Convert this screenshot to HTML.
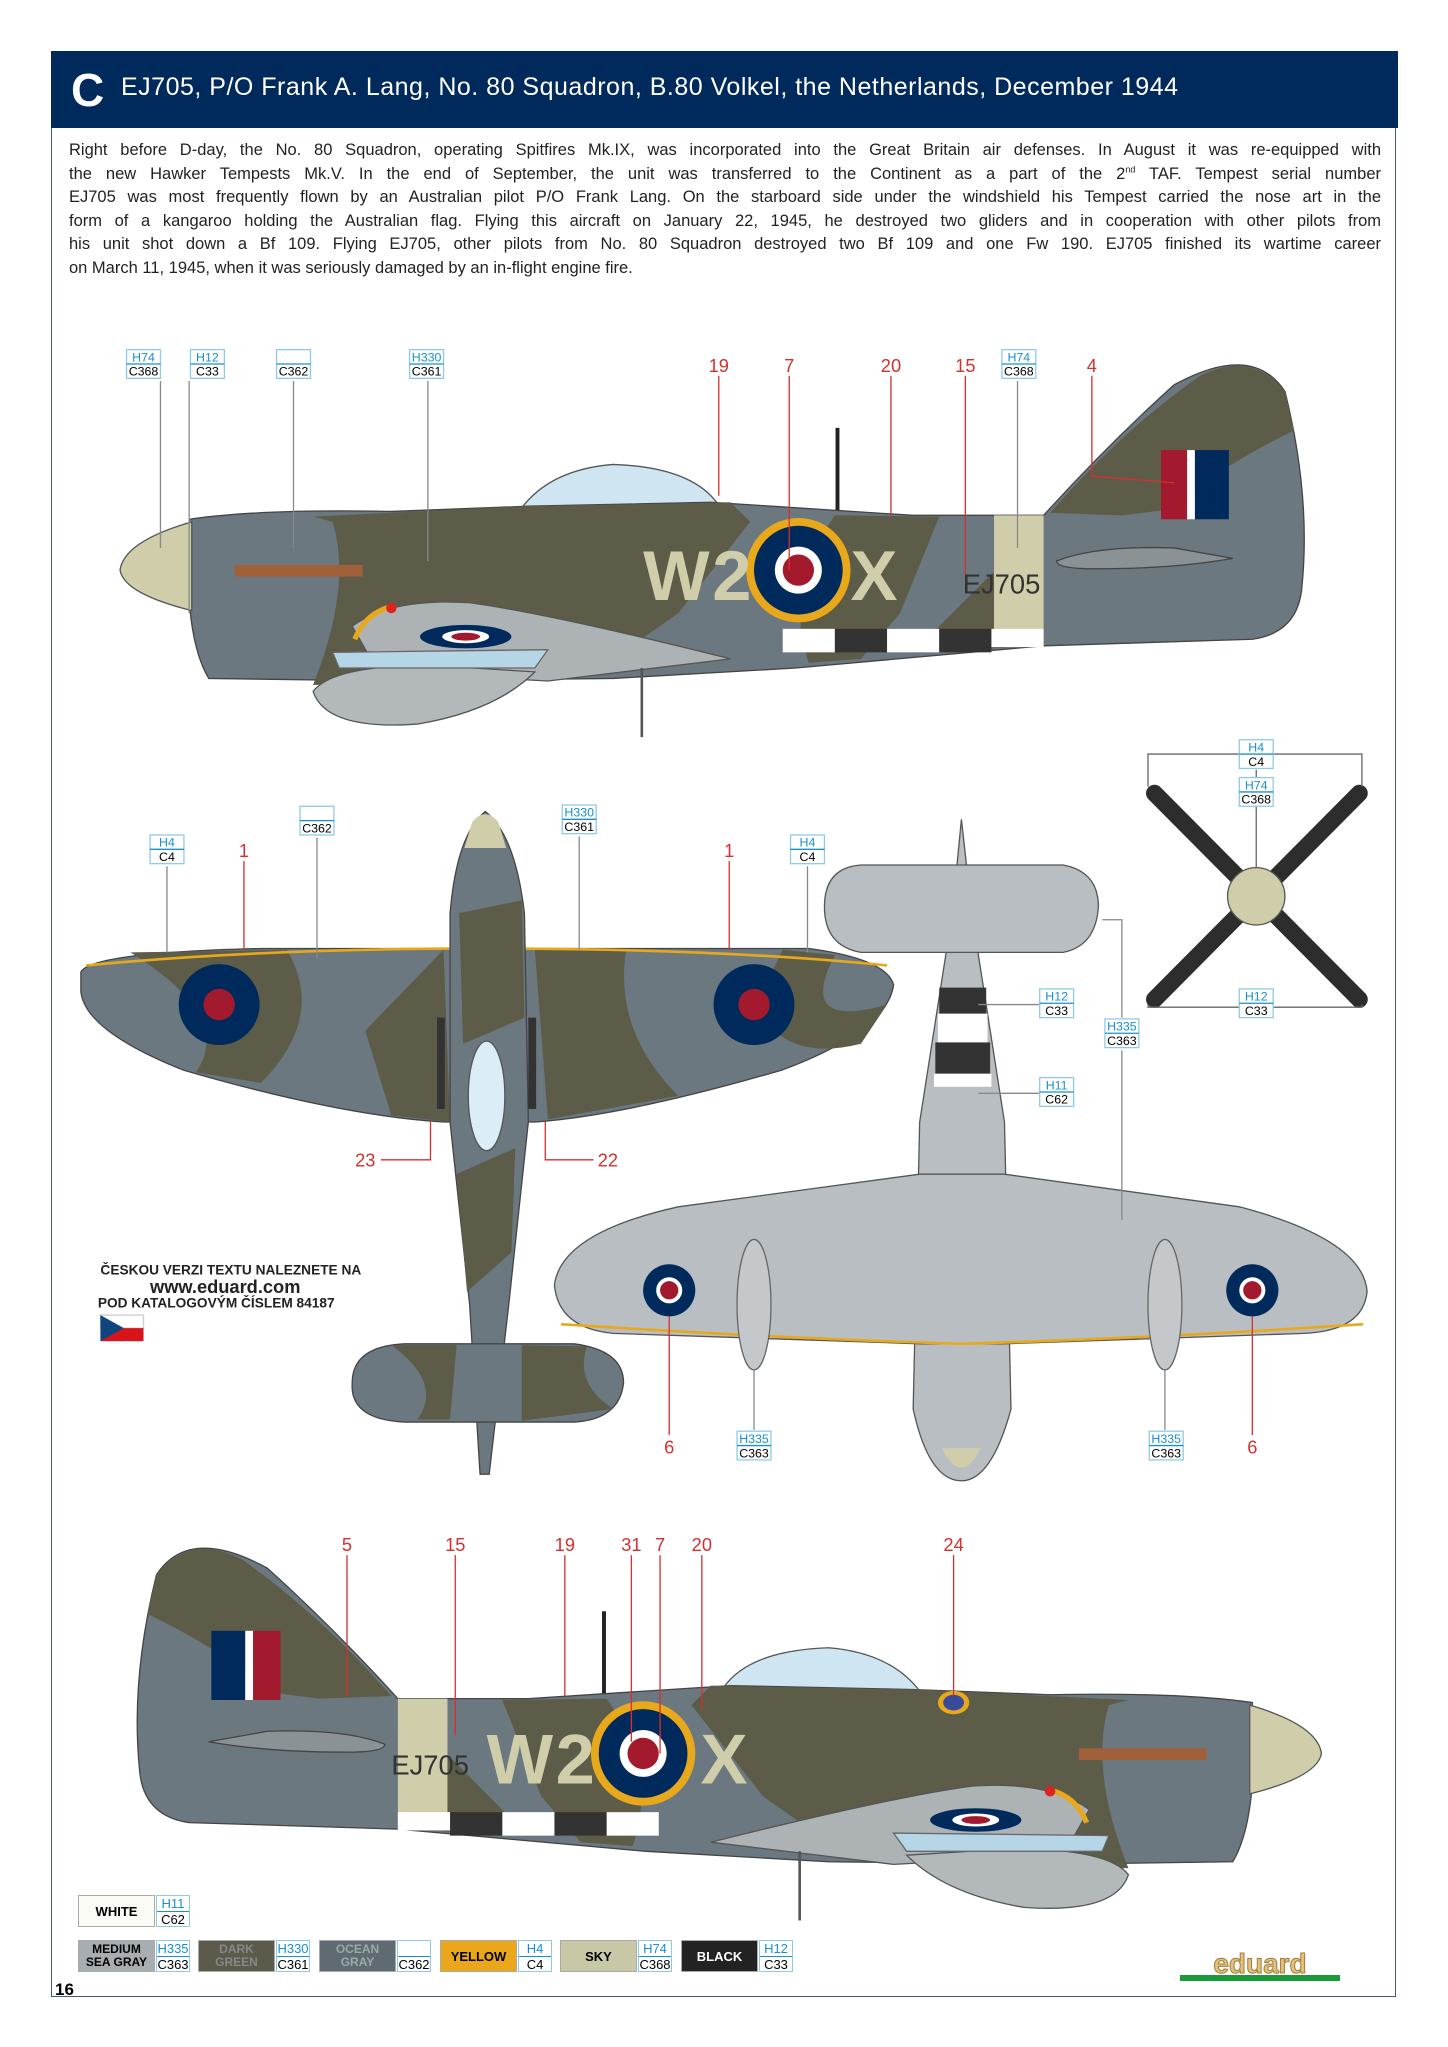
<!DOCTYPE html>
<html><head><meta charset="utf-8"><style>
body{margin:0;background:#fff;}
#pg{position:relative;width:1448px;height:2047px;overflow:hidden;font-family:"Liberation Sans",sans-serif;}
#frame{position:absolute;left:51px;top:51px;width:1345px;height:1946px;border:1.5px solid #3c5a85;box-sizing:border-box;}
#hdr{position:absolute;left:51px;top:51px;width:1347px;height:77px;background:#002a5c;color:#fff;}
#hdr .c{position:absolute;left:20px;top:12px;font-size:46px;font-weight:bold;}
#hdr .t{position:absolute;left:70px;top:22px;font-size:25px;letter-spacing:0.5px;}
#txt{position:absolute;left:69px;top:139px;width:1312px;font-size:16.5px;line-height:23.5px;color:#222;}
#txt div{text-align:justify;text-align-last:justify;white-space:nowrap;}
#txt div.l{text-align-last:left;}
svg{position:absolute;left:0;top:0;}
.lg{position:absolute;height:32px;font-weight:bold;font-size:13px;}
.lg .n{position:absolute;left:0;top:0;width:77px;height:32px;display:flex;align-items:center;justify-content:center;text-align:center;line-height:13px;border:1px solid #aaa;box-sizing:border-box;}
.lg .k{position:absolute;left:78px;top:0;width:34px;height:32px;border:1px solid #8fcbe8;box-sizing:border-box;font-weight:normal;font-size:13px;line-height:15px;text-align:center;}
.lg .k b{display:block;color:#1a8fd0;border-bottom:1px solid #1a8fd0;font-weight:normal;}
</style></head><body><div id="pg">
<div id="frame"></div>
<div id="hdr"><span class="c">C</span><span class="t">EJ705, P/O Frank A. Lang, No. 80 Squadron, B.80 Volkel, the Netherlands, December 1944</span></div>
<div id="txt">
<div>Right before D-day, the No. 80 Squadron, operating Spitfires Mk.IX, was incorporated into the Great Britain air defenses. In August it was re-equipped with</div>
<div>the new Hawker Tempests Mk.V. In the end of September, the unit was transferred to the Continent as a part of the 2<sup style="font-size:9px;line-height:0">nd</sup> TAF. Tempest serial number</div>
<div>EJ705 was most frequently flown by an Australian pilot P/O Frank Lang. On the starboard side under the windshield his Tempest carried the nose art in the</div>
<div>form of a kangaroo holding the Australian flag. Flying this aircraft on January 22, 1945, he destroyed two gliders and in cooperation with other pilots from</div>
<div>his unit shot down a Bf 109. Flying EJ705, other pilots from No. 80 Squadron destroyed two Bf 109 and one Fw 190. EJ705 finished its wartime career</div>
<div class="l">on March 11, 1945, when it was seriously damaged by an in-flight engine fire.</div>
</div>

<svg width="1448" height="2047" viewBox="0 0 1110 1569" preserveAspectRatio="none" font-family="Liberation Sans, sans-serif">
<defs>
<g id="side">
 <line x1="642" y1="328" x2="642" y2="392" stroke="#222" stroke-width="3"/>
 <path d="M398,392 Q420,360 470,356 Q530,358 550,386 Z" fill="#cfe6f2" stroke="#555"/>
 <path d="M145,398 Q200,390 300,392 L405,388 L545,385 L700,395 L800,395 Q850,340 900,295 Q960,262 985,300 Q1005,380 998,450 Q995,485 960,490 L800,495 L610,512 L470,520 L300,522 L160,520 Q148,500 145,460 Z" fill="#6b7880" stroke="#444" stroke-width="1"/>
 <path d="M240,396 L400,388 L560,385 L575,400 L520,470 L470,505 L420,520 L240,525 Q270,450 255,400 Z" fill="#5c5c48"/>
 <path d="M640,395 L720,396 L690,470 L660,505 L620,508 Q600,450 640,395 Z" fill="#5c5c48"/>
 <path d="M805,393 Q860,330 920,288 Q960,268 985,300 L992,330 Q930,360 900,390 L860,395 Z" fill="#5c5c48"/>
 <path d="M700,500 L760,440 L800,420 L800,495 Z" fill="#5c5c48"/>
 <rect x="762" y="395" width="38" height="100" fill="#cfcdaa"/>
 <path d="M147,400 Q95,415 92,437 Q95,455 147,468 Z" fill="#cfcdaa" stroke="#555"/>
 <path d="M810,430 Q840,418 900,420 L945,428 Q900,436 840,436 Q810,436 810,430 Z" fill="#8a9296" stroke="#444"/>
 <rect x="180" y="433" width="98" height="9" fill="#a0613a"/>
 <path d="M270,480 Q300,458 360,462 Q420,470 560,505 L420,522 L290,515 Z" fill="#adb2b5" stroke="#555"/>
 <path d="M240,530 Q255,510 330,510 L410,515 Q380,545 320,555 Q250,560 240,530 Z" fill="#b3b8bb" stroke="#555"/>
 <path d="M255,500 L420,498 L410,512 L260,512 Z" fill="#b6d6e8" stroke="#666"/>
 <ellipse cx="357" cy="488" rx="35" ry="9" fill="#002a5c"/><ellipse cx="357" cy="488" rx="18" ry="5" fill="#fff"/><ellipse cx="357" cy="488" rx="11" ry="3" fill="#a31a2e"/>
 <path d="M272,490 Q280,470 300,465" stroke="#e8a81c" stroke-width="4" fill="none"/>
 <circle cx="300" cy="466" r="4" fill="#d22"/>
 <rect x="600" y="482" width="40" height="18" fill="#fff"/><rect x="640" y="482" width="40" height="18" fill="#333"/><rect x="680" y="482" width="40" height="18" fill="#fff"/><rect x="720" y="482" width="40" height="18" fill="#333"/><rect x="760" y="482" width="40" height="14" fill="#fff"/>
 <line x1="492" y1="512" x2="492" y2="565" stroke="#555" stroke-width="2"/>
 <circle cx="612" cy="437" r="40" fill="#e8a81c"/><circle cx="612" cy="437" r="34" fill="#002a5c"/><circle cx="612" cy="437" r="18" fill="#fff"/><circle cx="612" cy="437" r="12" fill="#a31a2e"/>
</g>
<g id="lb"><rect width="26" height="22" fill="#fff" stroke="#8fcbe8"/><line x1="0" y1="11" x2="26" y2="11" stroke="#1a8fd0"/></g>
</defs>

<use href="#side"/>
<rect x="890" y="345" width="20" height="53" fill="#a31a2e"/><rect x="910" y="345" width="6" height="53" fill="#fff"/><rect x="916" y="345" width="26" height="53" fill="#002a5c"/>
<text x="493" y="460" font-size="54" fill="#cfcdaa" font-weight="bold" letter-spacing="2">W2</text>
<text x="652" y="460" font-size="54" fill="#cfcdaa" font-weight="bold">X</text>
<text x="738" y="455" font-size="21" fill="#333">EJ705</text>

<g transform="translate(1105,907) scale(-1,1)"><use href="#side"/></g>
<rect x="162" y="1250" width="26" height="53" fill="#002a5c"/><rect x="188" y="1250" width="6" height="53" fill="#fff"/><rect x="194" y="1250" width="21" height="53" fill="#a31a2e"/>
<text x="373" y="1367" font-size="54" fill="#cfcdaa" font-weight="bold" letter-spacing="2">W2</text>
<text x="537" y="1367" font-size="54" fill="#cfcdaa" font-weight="bold">X</text>
<text x="300" y="1360" font-size="21" fill="#333">EJ705</text>
<ellipse cx="731" cy="1305" rx="12" ry="9" fill="#e8a81c"/><ellipse cx="731" cy="1305" rx="8" ry="6" fill="#3a4a9a"/>

<path d="M62,745 Q70,730 200,727 L620,727 Q680,735 685,755 Q680,790 600,820 Q480,855 410,860 L340,860 Q260,855 140,820 Q65,790 62,760 Z" fill="#6b7880" stroke="#444"/>
<path d="M100,730 L220,728 Q250,780 200,830 L150,822 Q180,780 100,730 Z" fill="#5c5c48"/>
<path d="M280,790 L340,728 L345,860 L300,855 Z" fill="#5c5c48"/>
<path d="M410,728 L480,728 Q470,790 520,840 L420,858 Z" fill="#5c5c48"/>
<path d="M600,728 L640,732 Q610,790 680,770 L660,800 Q600,815 580,770 Z" fill="#5c5c48"/>
<path d="M66,740 Q200,727 372,727 Q550,727 680,740" stroke="#e8a81c" stroke-width="2" fill="none"/>
<path d="M372,622 Q395,640 402,700 L405,860 L390,1000 L375,1130 L368,1130 L360,1000 L345,860 L345,700 Q350,640 372,622 Z" fill="#6b7880" stroke="#444"/>
<path d="M352,700 L400,690 L402,780 L355,800 Z" fill="#5c5c48"/>
<path d="M350,900 L395,880 L392,960 L358,990 Z" fill="#5c5c48"/>
<path d="M362,630 Q372,618 382,630 L388,650 L356,650 Z" fill="#cfcdaa"/>
<ellipse cx="373" cy="840" rx="14" ry="42" fill="#dbedf7" stroke="#555"/>
<path d="M270,1060 Q270,1032 310,1030 L440,1030 Q478,1035 478,1060 Q475,1088 440,1090 L310,1090 Q268,1088 270,1060 Z" fill="#6b7880" stroke="#444"/>
<path d="M300,1031 L350,1031 L345,1088 L320,1088 Q340,1060 300,1031 Z" fill="#5c5c48"/>
<path d="M400,1031 L450,1032 Q440,1060 470,1080 L400,1089 Z" fill="#5c5c48"/>
<line x1="338" y1="780" x2="338" y2="850" stroke="#333" stroke-width="6"/><line x1="408" y1="780" x2="408" y2="850" stroke="#333" stroke-width="6"/>
<circle cx="168" cy="770" r="31" fill="#002a5c"/><circle cx="168" cy="770" r="12" fill="#a31a2e"/>
<circle cx="578" cy="770" r="31" fill="#002a5c"/><circle cx="578" cy="770" r="12" fill="#a31a2e"/>

<path d="M737,628 L745,700 L770,860 L775,1080 Q760,1135 737,1135 Q712,1135 700,1080 L705,860 L730,700 Z" fill="#b9bec2" stroke="#555"/>
<path d="M632,695 Q632,665 660,663 L815,663 Q842,668 842,695 Q840,725 815,730 L660,730 Q632,725 632,695 Z" fill="#b9bec2" stroke="#555"/>
<path d="M425,985 Q430,945 520,925 L705,900 L770,900 L950,925 Q1045,950 1048,990 Q1045,1020 1000,1022 L770,1030 L705,1030 L470,1022 Q428,1018 425,985 Z" fill="#b9bec2" stroke="#555"/>
<path d="M430,1015 Q600,1026 737,1030 Q880,1026 1045,1015" stroke="#e8a81c" stroke-width="2" fill="none"/>
<rect x="720" y="757" width="36" height="20" fill="#333"/><rect x="719" y="777" width="38" height="22" fill="#fff"/><rect x="717" y="799" width="42" height="24" fill="#333"/><rect x="716" y="823" width="44" height="10" fill="#fff"/>
<path d="M722,1110 Q737,1140 752,1110 Z" fill="#cfcdaa"/>
<ellipse cx="578" cy="1000" rx="13" ry="50" fill="#c4c8cb" stroke="#666"/>
<ellipse cx="893" cy="1000" rx="13" ry="50" fill="#c4c8cb" stroke="#666"/>
<circle cx="513" cy="989" r="20" fill="#002a5c"/><circle cx="513" cy="989" r="10" fill="#fff"/><circle cx="513" cy="989" r="7" fill="#a31a2e"/>
<circle cx="960" cy="989" r="20" fill="#002a5c"/><circle cx="960" cy="989" r="10" fill="#fff"/><circle cx="960" cy="989" r="7" fill="#a31a2e"/>

<g stroke="#2d2d2d" stroke-width="13" stroke-linecap="round"><line x1="885" y1="608" x2="1042" y2="766"/><line x1="1042" y1="608" x2="885" y2="766"/></g>
<circle cx="963" cy="687" r="22" fill="#cfcdaa" stroke="#555"/>
<path d="M880,603 L880,578 L1044,578 L1044,603 M880,770 L880,772 L1044,772 L1044,770" stroke="#666" fill="none"/>
<line x1="963" y1="590" x2="963" y2="665" stroke="#666"/>

<g stroke="#888" stroke-width="1">
<line x1="123" y1="292" x2="123" y2="420"/><line x1="145" y1="292" x2="145" y2="470"/><line x1="225" y1="292" x2="225" y2="420"/><line x1="328" y1="292" x2="328" y2="430"/><line x1="780" y1="292" x2="780" y2="420"/>
<line x1="128" y1="664" x2="128" y2="730"/><line x1="243" y1="642" x2="243" y2="735"/><line x1="444" y1="641" x2="444" y2="728"/><line x1="619" y1="664" x2="619" y2="730"/>
<line x1="810" y1="770" x2="750" y2="770"/><line x1="810" y1="838" x2="750" y2="838"/>
<path d="M845,705 L860,705 L860,780 M860,805 L860,935" fill="none"/>
<line x1="578" y1="1050" x2="578" y2="1096"/><line x1="893" y1="1050" x2="893" y2="1096"/>
</g>
<g stroke="#d43030" stroke-width="1" fill="none">
<line x1="551" y1="288" x2="551" y2="380"/><line x1="605" y1="288" x2="605" y2="437"/><line x1="683" y1="288" x2="683" y2="395"/><line x1="740" y1="288" x2="740" y2="440"/><path d="M837,288 L837,365 L900,370"/>
<line x1="187" y1="660" x2="187" y2="728"/><line x1="559" y1="660" x2="559" y2="728"/>
<path d="M292,889 L330,889 L330,860"/><path d="M455,889 L418,889 L418,860"/>
<line x1="513" y1="1009" x2="513" y2="1100"/><line x1="960" y1="1009" x2="960" y2="1100"/>
<line x1="266" y1="1192" x2="266" y2="1300"/><line x1="349" y1="1192" x2="349" y2="1330"/><line x1="433" y1="1192" x2="433" y2="1300"/><line x1="484" y1="1192" x2="484" y2="1335"/><line x1="506" y1="1192" x2="506" y2="1344"/><line x1="538" y1="1192" x2="538" y2="1310"/><line x1="731" y1="1192" x2="731" y2="1300"/>
</g>
<g fill="#d43030" font-size="14" text-anchor="middle">
<text x="551" y="285">19</text><text x="605" y="285">7</text><text x="683" y="285">20</text><text x="740" y="285">15</text><text x="837" y="285">4</text>
<text x="187" y="657">1</text><text x="559" y="657">1</text><text x="280" y="894">23</text><text x="466" y="894">22</text>
<text x="513" y="1114">6</text><text x="960" y="1114">6</text>
<text x="266" y="1189">5</text><text x="349" y="1189">15</text><text x="433" y="1189">19</text><text x="484" y="1189">31</text><text x="506" y="1189">7</text><text x="538" y="1189">20</text><text x="731" y="1189">24</text>
</g>
<g font-size="9.5" text-anchor="middle">
<g transform="translate(97,268)"><use href="#lb"/><text x="13" y="9" fill="#1a8fd0">H74</text><text x="13" y="20">C368</text></g>
<g transform="translate(146,268)"><use href="#lb"/><text x="13" y="9" fill="#1a8fd0">H12</text><text x="13" y="20">C33</text></g>
<g transform="translate(212,268)"><use href="#lb"/><text x="13" y="20">C362</text></g>
<g transform="translate(314,268)"><use href="#lb"/><text x="13" y="9" fill="#1a8fd0">H330</text><text x="13" y="20">C361</text></g>
<g transform="translate(768,268)"><use href="#lb"/><text x="13" y="9" fill="#1a8fd0">H74</text><text x="13" y="20">C368</text></g>
<g transform="translate(115,640)"><use href="#lb"/><text x="13" y="9" fill="#1a8fd0">H4</text><text x="13" y="20">C4</text></g>
<g transform="translate(230,618)"><use href="#lb"/><text x="13" y="20">C362</text></g>
<g transform="translate(431,617)"><use href="#lb"/><text x="13" y="9" fill="#1a8fd0">H330</text><text x="13" y="20">C361</text></g>
<g transform="translate(606,640)"><use href="#lb"/><text x="13" y="9" fill="#1a8fd0">H4</text><text x="13" y="20">C4</text></g>
<g transform="translate(950,567)"><use href="#lb"/><text x="13" y="9" fill="#1a8fd0">H4</text><text x="13" y="20">C4</text></g>
<g transform="translate(950,596)"><use href="#lb"/><text x="13" y="9" fill="#1a8fd0">H74</text><text x="13" y="20">C368</text></g>
<g transform="translate(950,758)"><use href="#lb"/><text x="13" y="9" fill="#1a8fd0">H12</text><text x="13" y="20">C33</text></g>
<g transform="translate(797,758)"><use href="#lb"/><text x="13" y="9" fill="#1a8fd0">H12</text><text x="13" y="20">C33</text></g>
<g transform="translate(847,781)"><use href="#lb"/><text x="13" y="9" fill="#1a8fd0">H335</text><text x="13" y="20">C363</text></g>
<g transform="translate(797,826)"><use href="#lb"/><text x="13" y="9" fill="#1a8fd0">H11</text><text x="13" y="20">C62</text></g>
<g transform="translate(565,1097)"><use href="#lb"/><text x="13" y="9" fill="#1a8fd0">H335</text><text x="13" y="20">C363</text></g>
<g transform="translate(881,1097)"><use href="#lb"/><text x="13" y="9" fill="#1a8fd0">H335</text><text x="13" y="20">C363</text></g>
</g>
<text x="77" y="977" font-size="10.5" font-weight="bold" fill="#222">ČESKOU VERZI TEXTU NALEZNETE NA</text>
<text x="115" y="991" font-size="14" font-weight="bold" fill="#222">www.eduard.com</text>
<text x="75" y="1002" font-size="10.5" font-weight="bold" fill="#222">POD KATALOGOVÝM ČÍSLEM 84187</text>
<rect x="77" y="1008" width="33" height="10" fill="#fff" stroke="#ccc"/><rect x="77" y="1018" width="33" height="10" fill="#d7141a"/><path d="M77,1008 L95,1018 L77,1028 Z" fill="#11457e"/>
</svg>

<div class="lg" style="left:78px;top:1895px"><div class="n" style="background:#fbfbf5">WHITE</div><div class="k"><b>H11</b>C62</div></div>
<div class="lg" style="left:78px;top:1940px"><div class="n" style="background:#a7adb1;font-size:12px">MEDIUM<br>SEA GRAY</div><div class="k"><b>H335</b>C363</div></div>
<div class="lg" style="left:198px;top:1940px"><div class="n" style="background:#5c5a4a;color:#888;font-size:12px">DARK<br>GREEN</div><div class="k"><b>H330</b>C361</div></div>
<div class="lg" style="left:319px;top:1940px"><div class="n" style="background:#5f6b71;color:#9aa;font-size:12px">OCEAN<br>GRAY</div><div class="k"><b>&nbsp;</b>C362</div></div>
<div class="lg" style="left:440px;top:1940px"><div class="n" style="background:#eaa71c">YELLOW</div><div class="k"><b>H4</b>C4</div></div>
<div class="lg" style="left:560px;top:1940px"><div class="n" style="background:#c9c8a6">SKY</div><div class="k"><b>H74</b>C368</div></div>
<div class="lg" style="left:681px;top:1940px"><div class="n" style="background:#222;color:#fff">BLACK</div><div class="k"><b>H12</b>C33</div></div>
<div style="position:absolute;left:1180px;top:1953px;width:160px;height:22px;font-size:28px;font-weight:bold;color:#e0c27a;text-align:center;line-height:22px;-webkit-text-stroke:1px #a57a3a">eduard</div>
<div style="position:absolute;left:1180px;top:1975px;width:160px;height:6px;background:#1a9a3a"></div>
<div style="position:absolute;left:55px;top:1980px;font-size:17px;font-weight:bold">16</div>
</div></body></html>
